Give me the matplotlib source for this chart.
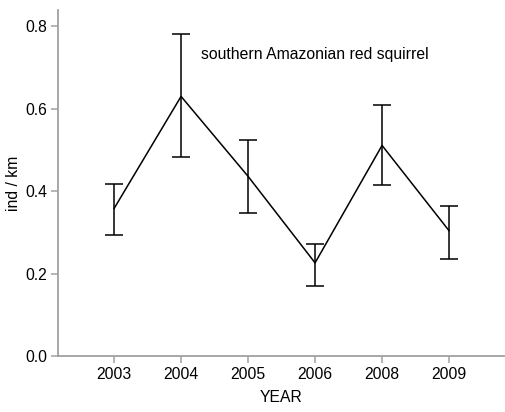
import matplotlib
matplotlib.use("Agg")
import matplotlib.pyplot as plt

plt.rcParams['font.family'] = ['Liberation Sans', 'DejaVu Sans']

# Mean density per year with interval bounds
years = ["2003", "2004", "2005", "2006", "2008", "2009"]
density = [0.358, 0.630, 0.436, 0.226, 0.511, 0.304]
upper = [0.418, 0.782, 0.524, 0.272, 0.608, 0.365]
lower = [0.293, 0.483, 0.347, 0.171, 0.414, 0.236]

err_low = [m - lo for m, lo in zip(density, lower)]
err_high = [hi - m for m, hi in zip(density, upper)]

fig = plt.figure(figsize=(5.05, 4.12), dpi=100)
ax = fig.add_axes([0.115, 0.136, 0.883, 0.840])

x = list(range(len(years)))
ax.errorbar(x, density, yerr=[err_low, err_high], color="black", lw=1.1,
            elinewidth=1.1, capsize=6.5, capthick=1.1)

ax.set_xlim(-0.836, 5.82)
ax.set_ylim(0, 0.84)
ax.set_xticks(x)
ax.set_xticklabels(years)
ax.set_yticks([0.0, 0.2, 0.4, 0.6, 0.8])
ax.set_yticklabels(["0.0", "0.2", "0.4", "0.6", "0.8"])

for side in ("top", "right"):
    ax.spines[side].set_visible(False)
for side in ("left", "bottom"):
    ax.spines[side].set_color("#a0a0a0")
    ax.spines[side].set_linewidth(1.3)
ax.tick_params(colors="#a0a0a0", labelcolor="black", labelsize=11.3,
               length=5, width=1.1, pad=3)

ax.set_xlabel("YEAR", fontsize=11.3, labelpad=6)
ax.set_ylabel("ind / km", fontsize=11.3, labelpad=3)

ax.text(1.3, 0.722, "southern Amazonian red squirrel", fontsize=11.3)

fig.savefig("out.png", dpi=100)
